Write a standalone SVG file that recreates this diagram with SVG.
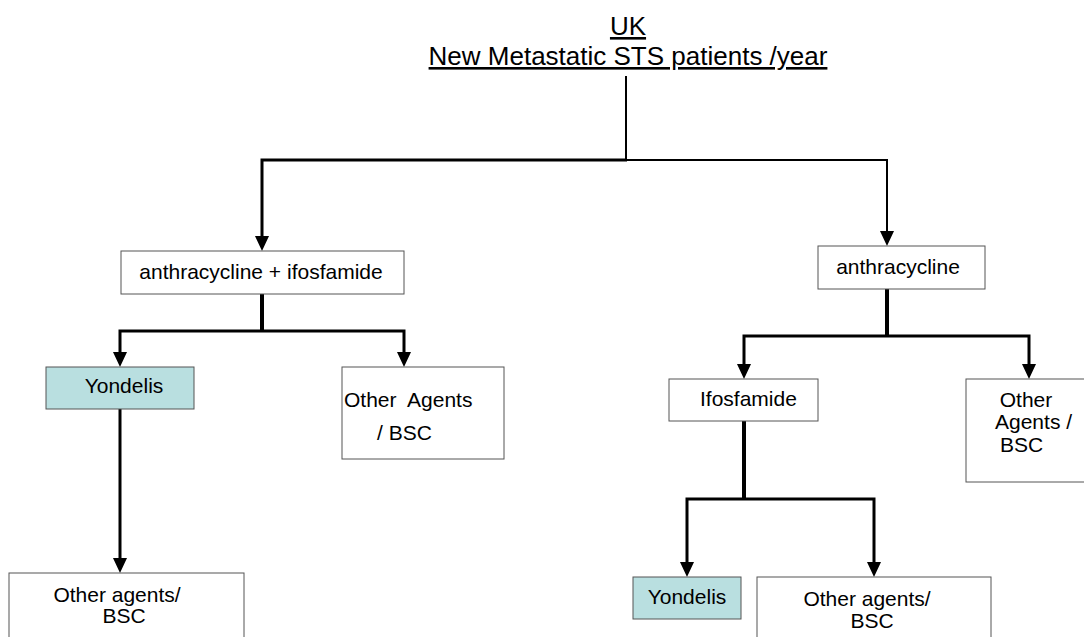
<svg xmlns="http://www.w3.org/2000/svg" width="1084" height="637" viewBox="0 0 1084 637">
<style>
  text { font-family: "Liberation Sans", Arial, sans-serif; font-size: 21px; fill: #000; }
  .title { font-size: 26px; text-decoration: underline; }
  .box { fill: #fff; stroke: #555; stroke-width: 1; }
  .yon { fill: #b9dfe0; stroke: #555; stroke-width: 1; }
  .c { fill: none; stroke: #000; stroke-width: 3; stroke-linejoin: miter; }
  .thin { stroke-width: 2; }
  .thick { stroke-width: 4; }
</style>
<defs>
  <marker id="arr" viewBox="0 0 15 14" markerUnits="userSpaceOnUse" markerWidth="15" markerHeight="14" refX="9" refY="7" orient="auto">
    <path d="M0,0 L15,7 L0,14 Z" fill="#000"/>
  </marker>
</defs>
<rect width="1084" height="637" fill="#fff"/>

<g id="title">
  <text class="title" x="628" y="35" text-anchor="middle">UK</text>
  <text class="title" x="628" y="65" text-anchor="middle">New Metastatic STS patients /year</text>
</g>

<g id="connectors">
  <path class="c thin" d="M626,76 V160"/>
  <path class="c" d="M627,160 H262 V245" marker-end="url(#arr)"/>
  <path class="c thin" d="M626,160 H887 V240" marker-end="url(#arr)"/>
  <path class="c thick" d="M262,294 V331"/>
  <path class="c" d="M262,331 H120 V361" marker-end="url(#arr)"/>
  <path class="c" d="M262,331 H404 V361" marker-end="url(#arr)"/>
  <path class="c" d="M120,409 V567" marker-end="url(#arr)"/>
  <path class="c thick" d="M887,289 V336"/>
  <path class="c" d="M887,336 H744 V373" marker-end="url(#arr)"/>
  <path class="c" d="M887,336 H1029 V373" marker-end="url(#arr)"/>
  <path class="c thick" d="M744,421 V499"/>
  <path class="c" d="M744,499 H687 V571" marker-end="url(#arr)"/>
  <path class="c" d="M744,499 H874 V571" marker-end="url(#arr)"/>
</g>

<g id="n-anth-ifos">
  <rect class="box" x="121" y="251" width="283" height="43"/>
  <text x="261" y="279" text-anchor="middle">anthracycline + ifosfamide</text>
</g>

<g id="n-anth">
  <rect class="box" x="818" y="246" width="167" height="43"/>
  <text x="898" y="274" text-anchor="middle">anthracycline</text>
</g>

<g id="n-yondelis-left">
  <rect class="yon" x="46" y="367" width="148" height="42"/>
  <text x="124" y="393" text-anchor="middle">Yondelis</text>
</g>

<g id="n-other-left">
  <rect class="box" x="342" y="367" width="162" height="92"/>
  <text x="344" y="407" xml:space="preserve">Other  Agents</text>
  <text x="377" y="440">/ BSC</text>
</g>

<g id="n-other-bottom-left">
  <rect class="box" x="9" y="573" width="235" height="80"/>
  <text x="117" y="602" text-anchor="middle">Other agents/</text>
  <text x="124" y="623" text-anchor="middle">BSC</text>
</g>

<g id="n-ifosfamide">
  <rect class="box" x="669" y="379" width="149" height="42"/>
  <text x="700" y="406">Ifosfamide</text>
</g>

<g id="n-other-right">
  <rect class="box" x="966" y="379" width="130" height="103"/>
  <text x="1026" y="407" text-anchor="middle">Other</text>
  <text x="995" y="429">Agents /</text>
  <text x="1000" y="452">BSC</text>
</g>

<g id="n-yondelis-right">
  <rect class="yon" x="633" y="577" width="108" height="42"/>
  <text x="687" y="604" text-anchor="middle">Yondelis</text>
</g>

<g id="n-other-bottom-right">
  <rect class="box" x="757" y="577" width="234" height="80"/>
  <text x="867" y="606" text-anchor="middle">Other agents/</text>
  <text x="872" y="628" text-anchor="middle">BSC</text>
</g>
</svg>
